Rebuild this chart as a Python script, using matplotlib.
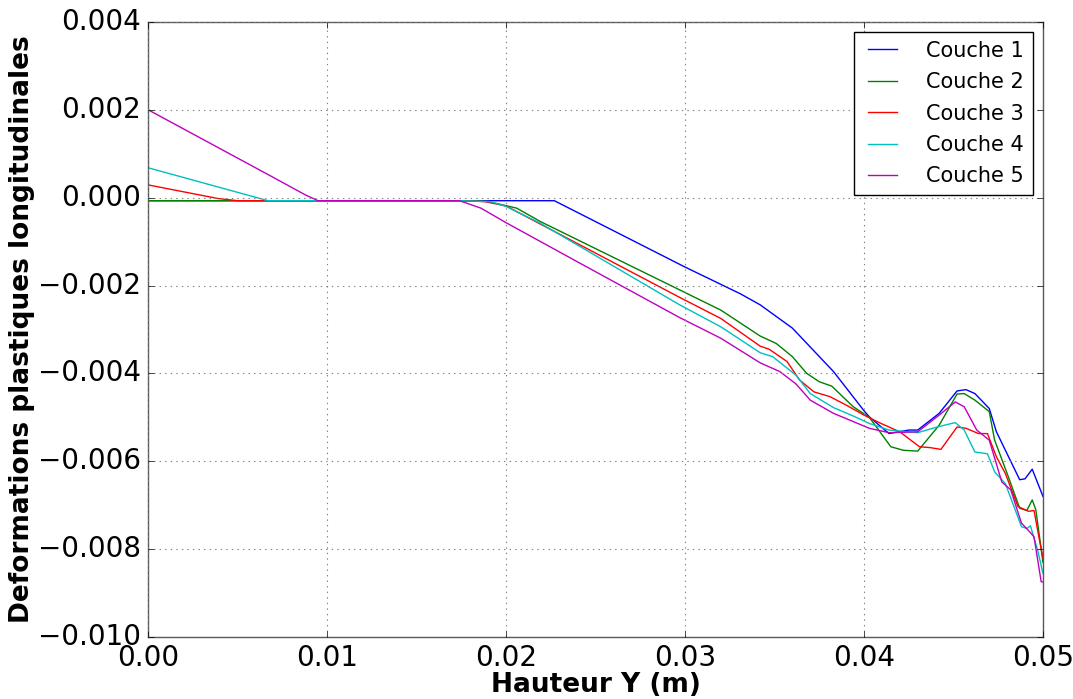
import matplotlib
matplotlib.use("Agg")
import matplotlib.pyplot as plt

# Couche 1 .. 5 (hauteur Y en m, deformation)
x1 = [0.0, 0.01, 0.0175, 0.0227, 0.03, 0.0331, 0.0342, 0.0360, 0.0383, 0.0400, 0.0403,
      0.0414, 0.0425, 0.0430, 0.0442, 0.0452, 0.0457, 0.0462, 0.0470, 0.0474, 0.0487,
      0.0490, 0.0494, 0.0500]
y1 = [-0.00007, -0.00007, -0.00007, -0.00007, -0.00158, -0.00219, -0.00244, -0.00297,
      -0.00396, -0.00485, -0.00499, -0.00537, -0.00529, -0.00529, -0.00491, -0.00440,
      -0.00437, -0.00446, -0.00480, -0.00533, -0.00642, -0.00640, -0.00618, -0.00680]

x2 = [0.0, 0.01, 0.0175, 0.0190, 0.0206, 0.0219, 0.0297, 0.0320, 0.0342, 0.0351, 0.0360,
      0.0368, 0.0375, 0.0382, 0.0394, 0.0403, 0.0415, 0.0422, 0.0430, 0.0442, 0.0452,
      0.0456, 0.0462, 0.0470, 0.0473, 0.0480, 0.0487, 0.0491, 0.0494, 0.0496, 0.0500]
y2 = [-0.00007, -0.00007, -0.00007, -0.00009, -0.00024, -0.00054, -0.00210, -0.00256,
      -0.00315, -0.00332, -0.00362, -0.00400, -0.00419, -0.00429, -0.00476, -0.00500,
      -0.00567, -0.00575, -0.00577, -0.00518, -0.00447, -0.00446, -0.00461, -0.00487,
      -0.00552, -0.00628, -0.00707, -0.00712, -0.00688, -0.00710, -0.00830]

x3 = [0.0, 0.0039, 0.0050, 0.01, 0.0175, 0.0188, 0.0200, 0.0297, 0.0320, 0.0342, 0.0347,
      0.0357, 0.0364, 0.0372, 0.0381, 0.0390, 0.0400, 0.0409, 0.0420, 0.0431, 0.0437,
      0.0443, 0.0452, 0.0457, 0.0464, 0.0469, 0.0474, 0.0479, 0.0486, 0.0492, 0.0495,
      0.0498, 0.0500]
y3 = [0.00029, -0.00002, -0.00007, -0.00007, -0.00007, -0.00009, -0.00019, -0.00227,
      -0.00275, -0.00338, -0.00345, -0.00373, -0.00415, -0.00442, -0.00453, -0.00472,
      -0.00495, -0.00513, -0.00533, -0.00567, -0.00569, -0.00573, -0.00522, -0.00525,
      -0.00537, -0.00537, -0.00590, -0.00628, -0.00703, -0.00714, -0.00712, -0.00778,
      -0.00820]

x4 = [0.0, 0.0067, 0.01, 0.0175, 0.0191, 0.0200, 0.0219, 0.0297, 0.0320, 0.0342, 0.0349,
      0.0362, 0.0370, 0.0383, 0.0394, 0.0403, 0.0414, 0.0430, 0.0441, 0.0451, 0.0456,
      0.0462, 0.0469, 0.0473, 0.0479, 0.0488, 0.0491, 0.0493, 0.0497, 0.0500]
y4 = [0.00068, -0.00007, -0.00007, -0.00007, -0.00009, -0.00020, -0.00058, -0.00244,
      -0.00294, -0.00353, -0.00362, -0.00404, -0.00446, -0.00478, -0.00497, -0.00514,
      -0.00529, -0.00535, -0.00522, -0.00512, -0.00529, -0.00579, -0.00583, -0.00624,
      -0.00651, -0.00749, -0.00753, -0.00747, -0.00802, -0.00855]

x5 = [0.0, 0.0065, 0.0088, 0.0095, 0.01, 0.0174, 0.0186, 0.0200, 0.0243, 0.0297, 0.0320,
      0.0342, 0.0353, 0.0362, 0.0370, 0.0383, 0.0403, 0.0414, 0.0430, 0.0442, 0.0451,
      0.0456, 0.0463, 0.0470, 0.0477, 0.0482, 0.0488, 0.0492, 0.0495, 0.0499, 0.0500]
y5 = [0.00200, 0.00057, 0.00006, -0.00007, -0.00007, -0.00007, -0.00024, -0.00057,
      -0.00153, -0.00273, -0.00320, -0.00376, -0.00396, -0.00424, -0.00461, -0.00491,
      -0.00525, -0.00535, -0.00533, -0.00495, -0.00465, -0.00476, -0.00529, -0.00552,
      -0.00647, -0.00665, -0.00741, -0.00758, -0.00772, -0.00874, -0.00875]

labels = ['Couche 1', 'Couche 2', 'Couche 3', 'Couche 4', 'Couche 5']

plt.style.use('classic')
fig = plt.figure(figsize=(10.73, 6.99), dpi=100)
ax = fig.add_axes([0.138, 0.0887, 0.834, 0.88])

ax.plot(x1, y1, 'b', label=labels[0])
ax.plot(x2, y2, 'g', label=labels[1])
ax.plot(x3, y3, 'r', label=labels[2])
ax.plot(x4, y4, 'c', label=labels[3])
ax.plot(x5, y5, 'm', label=labels[4])

ax.set_xlim(0, 0.05)
ax.set_ylim(-0.010, 0.004)
ax.set_xticks([0.0, 0.01, 0.02, 0.03, 0.04, 0.05])
ax.set_yticks([-0.010, -0.008, -0.006, -0.004, -0.002, 0.0, 0.002, 0.004])
ax.grid(True, linestyle=':', color='0.5', linewidth=0.8)
for sp in ax.spines.values():
    sp.set_color('0.35')
ax.tick_params(labelsize=20, pad=5)
ax.set_xlabel('Hauteur Y (m)', fontsize=19, fontweight='bold', labelpad=0)
ax.set_ylabel('Deformations plastiques longitudinales', fontsize=19, fontweight='bold',
              labelpad=2)
ax.legend(loc='upper right', fontsize=15, labelspacing=0.55, handletextpad=1.1)

fig.savefig('out.png', dpi=100)
